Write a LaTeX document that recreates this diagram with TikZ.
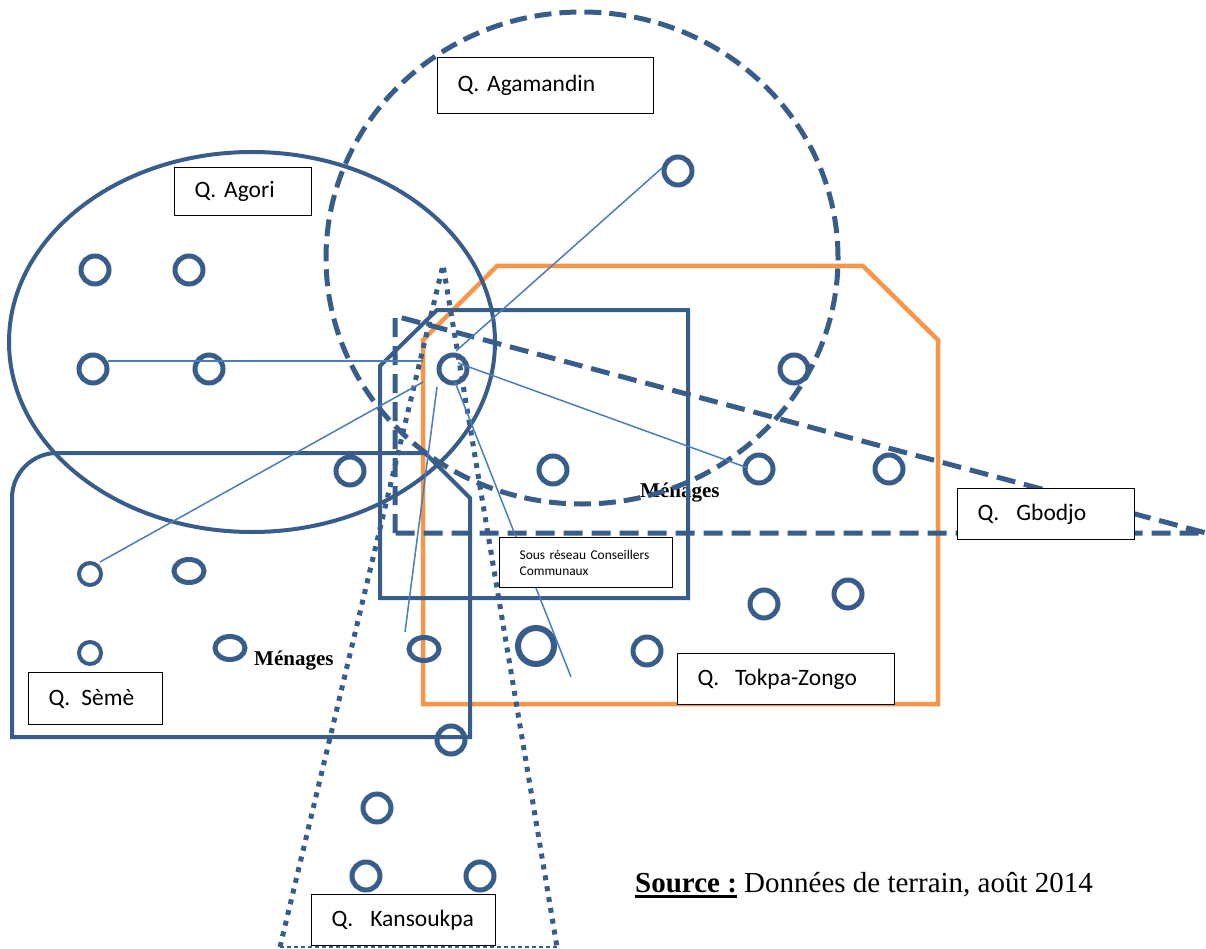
\documentclass[tikz,border=0pt]{standalone}
\usepackage{fontspec}
\setmainfont{Carlito}
\newfontfamily\tnr{Liberation Serif}
\usetikzlibrary{shapes.geometric}
\definecolor{bl}{HTML}{385D8A}
\definecolor{tl}{HTML}{4A7EBB}
\definecolor{orng}{HTML}{F79646}
\newcommand\myul[1]{\setbox0\hbox{#1}\rlap{\rule[-6pt]{\wd0}{3pt}}\box0\relax}
\begin{document}
\begin{tikzpicture}[x=1pt,y=-1pt,
  shp/.style={draw=bl, line width=4pt, line join=miter},
  orshp/.style={draw=orng, line width=4.5pt, line join=miter},
  dsha/.style={draw=bl, line width=5pt, dash pattern=on 17pt off 8pt},
  dshb/.style={draw=bl, line width=5pt, dash pattern=on 19pt off 9pt},
  dotk/.style={draw=bl, line width=5pt, dash pattern=on 5pt off 6pt},
  dotthin/.style={draw=bl, line width=2.5pt, dash pattern=on 4pt off 3pt},
  hh/.style={circle, draw=bl, line width=5pt, minimum size=28pt, inner sep=0pt},
  hbig/.style={circle, draw=bl, line width=6pt, minimum size=36pt, inner sep=0pt},
  hsm/.style={circle, draw=bl, line width=4pt, minimum size=22pt, inner sep=0pt},
  hel/.style={ellipse, draw=bl, line width=5pt, minimum width=30pt, minimum height=23pt, inner sep=0pt},
  cn/.style={draw=tl, line width=1.5pt},
  lbl/.style={draw=black, line width=1.2pt, fill=white, anchor=north west, inner xsep=20pt, inner ysep=0pt, align=left, font=\fontsize{23.5}{28}\selectfont\frenchspacing},
  slbl/.style={draw=black, line width=1.2pt, fill=white, anchor=north west, inner xsep=20pt, inner ysep=0pt, align=left, font=\fontsize{13.4}{16}\selectfont\frenchspacing},
  men/.style={font=\tnr\bfseries\fontsize{21}{24}\selectfont, anchor=base west, inner sep=0pt}
]
\useasboundingbox (0,0) rectangle (1206,949);

% labels Menages
\node[men] (men1) at (254,665) {Ménages};
\node[men] (men2) at (640,497) {Ménages};

% orange quartier Tokpa-Zongo
\draw[orshp] (423,704) -- (423,340) -- (497,266) -- (863,266) -- (938,340) -- (938,704) -- cycle;

% Seme
\draw[shp] (470,737) -- (12,737) -- (12,498) arc[start angle=180, end angle=90, radius=45pt] -- (425,453) -- (470,498) -- cycle;

% sous reseau rectangle
\draw[shp] (380,598) -- (380,366) -- (437,310) -- (688,310) -- (688,598) -- cycle;

% Agori ellipse
\draw[shp] (252,342) ellipse [x radius=243pt, y radius=190pt];

% Gbodjo triangle
\draw[dshb] (395,533) -- (395,316) -- (1206,533) -- cycle;

% Agamandin circle
\draw[dsha] (582,258) ellipse [x radius=256pt, y radius=246pt];

% Kansoukpa triangle
\draw[dotk] (280,947) -- (443,265) -- (557,947);
\draw[dotthin] (280,947) -- (557,947);

% households
\node[hh] (m1) at (95,270) {};
\node[hh] (m2) at (189,270) {};
\node[hh] (m3) at (93,369) {};
\node[hh] (m4) at (209,369) {};
\node[hh] (hub) at (453,369) {};
\node[hh] (ag1) at (678,171) {};
\node[hh] (m7) at (794,369) {};
\node[hh] (m8) at (350,471) {};
\node[hh] (m9) at (553,470) {};
\node[hh] (m10) at (759,469) {};
\node[hh] (m11) at (889,469) {};
\node[hh] (t1) at (764,604) {};
\node[hh] (t2) at (848,594) {};
\node[hh] (t3) at (647,651) {};
\node[hbig] (b1) at (536,646) {};
\node[hh] (k1) at (451,740) {};
\node[hh] (k2) at (377,808) {};
\node[hh] (k3) at (366,876) {};
\node[hh] (k4) at (480,876) {};
\node[hsm] (s1) at (90,574) {};
\node[hsm] (s2) at (90,653) {};
\node[hel] (e1) at (189,571) {};
\node[hel] (e2) at (230,648) {};
\node[hel] (e3) at (424,649) {};

% connectors
\coordinate (l1s) at (108,361);
\coordinate (l1e) at (423,361);
\coordinate (hNE) at (456,351);
\coordinate (agW) at (662,168);
\coordinate (hE) at (458,363);
\coordinate (m10W) at (748,468);
\coordinate (hSW) at (423,382);
\coordinate (s1NE) at (100,562);
\coordinate (hS1) at (437,387);
\coordinate (e3N) at (405,632);
\coordinate (hS2) at (455,382);
\coordinate (endS2) at (571,677);
\draw[cn] (l1s) -- (l1e);
\draw[cn] (hNE) -- (agW);
\draw[cn] (hE) -- (m10W);
\draw[cn] (hSW) -- (s1NE);
\draw[cn] (hS1) -- (e3N);
\draw[cn] (hS2) -- (endS2);

% boxes
\node[lbl, minimum width=216pt, minimum height=56pt, text width=176pt] (agam) at (437,57) {Q. Agamandin};
\node[lbl, minimum width=137pt, minimum height=48pt, text width=97pt] (agori) at (174,167) {Q. Agori};
\node[lbl, minimum width=177pt, minimum height=51pt, text width=137pt] (gbodjo) at (957,488) {\mbox{Q.\hspace{17pt}Gbodjo}};
\node[slbl, minimum width=173pt, minimum height=50pt, text width=133pt] (sous) at (499,537) {Sous réseau Conseillers\\Communaux};
\node[lbl, minimum width=217pt, minimum height=51pt, text width=177pt] (tokpa) at (677,653) {\mbox{Q.\ \ Tokpa-Zongo}};
\node[lbl, minimum width=134pt, minimum height=52pt, text width=94pt] (seme) at (28,672) {\mbox{Q.\hspace{11pt}Sèmè}};
\node[lbl, minimum width=184pt, minimum height=51pt, text width=144pt] (kans) at (311,894) {\mbox{Q.\hspace{17pt}Kansoukpa}};

% source
\node[anchor=base west, inner sep=0pt, font=\tnr\fontsize{29}{34}\selectfont] (src) at (635,892) {\myul{\textbf{Source :}} Données de terrain, août 2014};
\end{tikzpicture}
\end{document}
